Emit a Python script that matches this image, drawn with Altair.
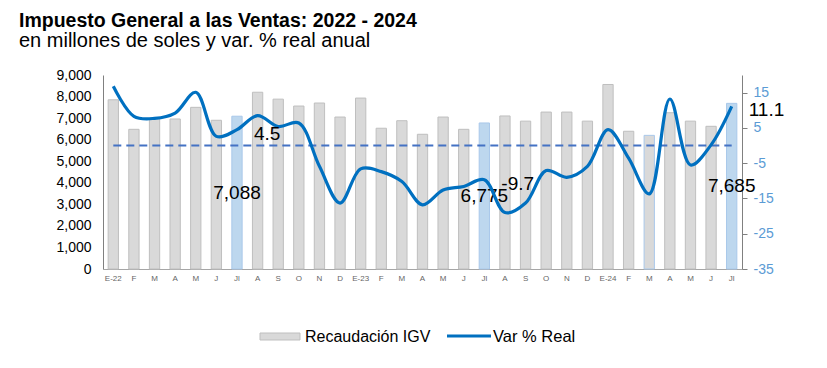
import json
import altair as alt
import pandas as pd

# ---- data ----
month_labels = ["E-22", "F", "M", "A", "M", "J", "Jl", "A", "S", "O", "N", "D",
                "E-23", "F", "M", "A", "M", "J", "Jl", "A", "S", "O", "N", "D",
                "E-24", "F", "M", "A", "M", "J", "Jl"]
recaudacion = [7850, 6480, 7000, 6960, 7500, 6900, 7088, 8200, 7880, 7560, 7700, 7050,
               7930, 6530, 6880, 6250, 7050, 6480, 6775, 7100, 6860, 7280, 7280, 6860,
               8560, 6390, 6200, 7250, 6860, 6620, 7685]
var_real = [16.8, 8.3, 7.7, 9.2, 15.1, 2.6, 4.5, 8.5, 5.4, 6.4, -5.9, -16.3,
            -6.6, -7.4, -10.2, -16.8, -12.6, -11.6, -9.7, -19.0, -16.3, -7.1, -9.0, -5.9,
            4.5, -3.6, -13.7, 13.2, -5.5, 0.2, 11.1]
highlight_idx = [6, 18, 30]
title_text = "Impuesto General a las Ventas: 2022 - 2024"
subtitle_text = "en millones de soles y var. % real anual"
legend_bar = "Recaudación IGV"
legend_line = "Var % Real"
left_ticks = [0, 1000, 2000, 3000, 4000, 5000, 6000, 7000, 8000, 9000]
right_ticks = [-35, -25, -15, -5, 5, 15]

df = pd.DataFrame({
    "i": list(range(len(month_labels))),
    "mes": month_labels,
    "rec": recaudacion,
    "var": var_real,
})
df["hl"] = df["i"].isin(highlight_idx)
df["half"] = df["rec"] / 2
df["zero"] = 0.0

FONT = "Liberation Sans"
label_expr = json.dumps(month_labels) + "[datum.value]"

x_enc = alt.X("i:O", title=None,
              scale=alt.Scale(paddingInner=0.5, paddingOuter=0.25),
              axis=alt.Axis(labelExpr=label_expr, labelAngle=0, labelFontSize=8,
                            labelColor="#666666", ticks=False, domainColor="#a6a6a6",
                            labelPadding=5, labelFont=FONT))

left_scale = alt.Scale(domain=[0, 9000], nice=False)
left_axis = alt.Axis(orient="left", values=left_ticks, grid=False,
                     labelExpr="format(datum.value, ',')",
                     ticks=False, domainColor="#808080", labelFontSize=14,
                     labelColor="#000000", labelPadding=12, labelFont=FONT)
right_scale = alt.Scale(domain=[-35, 20], nice=False, zero=False)
right_axis = alt.Axis(orient="right", values=right_ticks, grid=False,
                      ticks=True, tickSize=5, tickColor="#808080",
                      domainColor="#808080", labelFontSize=14,
                      labelExpr="'' + datum.value",
                      labelColor="#5b9bd5", labelPadding=6, labelFont=FONT)

base = alt.Chart(df)

bars = base.mark_bar(strokeWidth=1).encode(
    x=x_enc,
    y=alt.Y("rec:Q", title=None, scale=left_scale, axis=left_axis),
    fill=alt.condition("datum.hl", alt.value("#bdd7ee"), alt.value("#d9d9d9")),
    stroke=alt.condition("datum.hl || datum.i == 26", alt.value("#a9c8ea"), alt.value("#bfbfbf")),
)

bar_labels = base.transform_filter("datum.hl").transform_calculate(
    lab="format(datum.rec, ',')"
).mark_text(
    fontSize=19, font=FONT, color="#000000", align="center", baseline="middle"
).encode(
    x=x_enc,
    y=alt.Y("half:Q", title=None, scale=left_scale, axis=left_axis),
    text=alt.Text("lab:N"),
)

left_layer = alt.layer(bars, bar_labels)

zero_line = base.mark_line(color="#4472c4", strokeWidth=2, strokeDash=[8, 5]).encode(
    x=x_enc,
    y=alt.Y("zero:Q", title=None, scale=right_scale, axis=right_axis),
)

line = base.mark_line(color="#0070c0", strokeWidth=3.2, interpolate="catmull-rom").encode(
    x=x_enc,
    y=alt.Y("var:Q", title=None, scale=right_scale, axis=right_axis),
)

line_labels = base.transform_filter("datum.hl").transform_calculate(
    lab="'' + datum.var"
).mark_text(
    fontSize=19, font=FONT, color="#000000", align="left", baseline="middle", dx=17, dy=4
).encode(
    x=x_enc,
    y=alt.Y("var:Q", title=None, scale=right_scale, axis=right_axis),
    text=alt.Text("lab:N"),
)

right_layer = alt.layer(zero_line, line, line_labels)

# ---- titles & legend (positioned relative to plot origin) ----
one = pd.DataFrame({"k": [0]})
title = alt.Chart(one).mark_text(fontSize=19.5, fontWeight="bold", font=FONT, align="left",
                                 baseline="alphabetic", color="#000000").encode(
    x=alt.value(-84), y=alt.value(-48), text=alt.value(title_text))
subtitle = alt.Chart(one).mark_text(fontSize=20, font=FONT, align="left",
                                    baseline="alphabetic", color="#000000").encode(
    x=alt.value(-84), y=alt.value(-28), text=alt.value(subtitle_text))

leg_rect = alt.Chart(one).mark_rect(fill="#d9d9d9", stroke="#bfbfbf", strokeWidth=1).encode(
    x=alt.value(157), x2=alt.value(197), y=alt.value(258), y2=alt.value(265))
leg_t1 = alt.Chart(one).mark_text(fontSize=16, font=FONT, align="left", baseline="middle",
                                  color="#000000").encode(
    x=alt.value(202), y=alt.value(262), text=alt.value(legend_bar))
leg_line = alt.Chart(one).mark_rule(color="#0070c0", strokeWidth=3).encode(
    x=alt.value(344), x2=alt.value(388), y=alt.value(261))
leg_t2 = alt.Chart(one).mark_text(fontSize=16.5, font=FONT, align="left", baseline="middle",
                                  color="#000000").encode(
    x=alt.value(390), y=alt.value(262), text=alt.value(legend_line))

chart = alt.layer(
    left_layer, right_layer, title, subtitle, leg_rect, leg_t1, leg_line, leg_t2
).resolve_scale(y="independent").properties(
    width=639, height=194,
    autosize=alt.AutoSizeParams(type="none"),
    padding={"left": 95, "top": 67, "right": 77, "bottom": 91},
    background="#ffffff",
).configure_view(stroke=None)

chart.save("out.html", embed_options={"renderer": "svg", "actions": False})
